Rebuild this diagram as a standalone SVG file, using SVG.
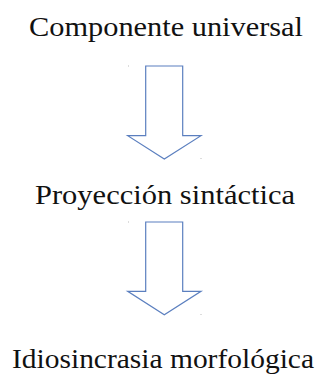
<svg xmlns="http://www.w3.org/2000/svg" width="324" height="374" viewBox="0 0 324 374">
<style>
.lbl{font-family:"Liberation Serif","DejaVu Serif",serif;font-size:28px;fill:#111;text-anchor:middle}
.arr{fill:#fff;stroke:#5b7fbf;stroke-width:1.2;stroke-linejoin:miter}
.dot{fill:#bbb}
</style>
<rect width="324" height="374" fill="#fff"/>
<g id="node-componente"><text class="lbl" x="166" y="36" textLength="274" lengthAdjust="spacingAndGlyphs">Componente universal</text></g>
<g id="node-proyeccion"><text class="lbl" x="165" y="203.5" textLength="260" lengthAdjust="spacingAndGlyphs">Proyección sintáctica</text></g>
<g id="node-idiosincrasia"><text class="lbl" x="163" y="368" textLength="302" lengthAdjust="spacingAndGlyphs">Idiosincrasia morfológica</text></g>
<g id="connectors">
<polygon class="arr" points="145.7,66 182.7,66 182.7,135.7 201,135.7 164.3,159 127.7,135.7 145.7,135.7"/>
<rect class="dot" x="128" y="65.5" width="1" height="1"/>
<rect class="dot" x="200.5" y="158" width="1" height="1"/>
<polygon class="arr" points="145.7,222 182.7,222 182.7,291.3 201,291.3 164.3,314.7 127.7,291.3 145.7,291.3"/>
<rect class="dot" x="128" y="221.5" width="1" height="1"/>
<rect class="dot" x="200.5" y="314" width="1" height="1"/>
</g>
</svg>
